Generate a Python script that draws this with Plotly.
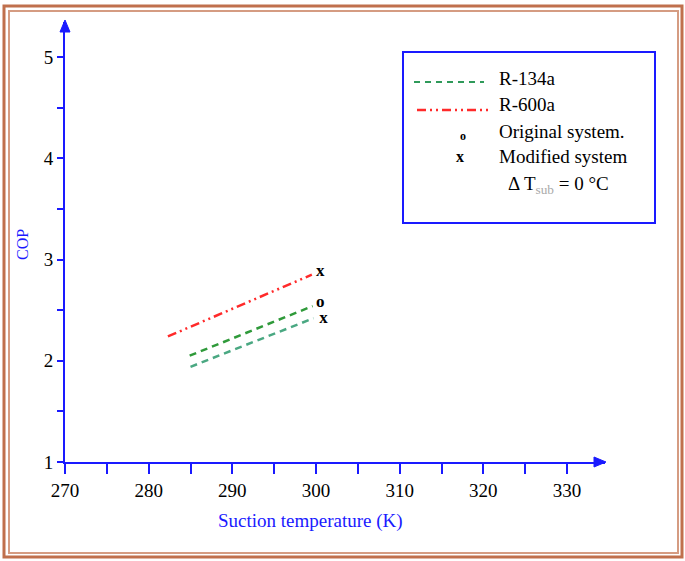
import plotly.graph_objects as go

# ---- data ----
r600a_T = [282.3, 299.5]
r600a_cop = [2.24, 2.85]
r134a_orig_T = [284.9, 299.6]
r134a_orig_cop = [2.05, 2.54]
r134a_mod_T = [285.0, 299.7]
r134a_mod_cop = [1.94, 2.42]

marker_T = [300.5, 300.5, 300.9]
marker_cop = [2.88, 2.57, 2.41]
marker_txt = ["<b>x</b>", "<b>o</b>", "<b>x</b>"]

x_ticks = [270, 280, 290, 300, 310, 320, 330]
y_ticks = [1, 2, 3, 4, 5]

BLUE = "#1a1aff"
SERIF = "Liberation Serif, Times New Roman, serif"

# pixel geometry of the plot area
L, R, T, B = 65, 605, 22, 462
W, H = 685, 561
def px(x):
    return (x - L) / (R - L)
def py(y):
    return (B - y) / (B - T)

fig = go.Figure()
fig.add_trace(go.Scatter(x=r600a_T, y=r600a_cop, mode="lines",
                         line=dict(color="#ff2a2a", width=2.5, dash="9px,4px,2px,4px,2px,4px"),
                         showlegend=False, hoverinfo="skip"))
fig.add_trace(go.Scatter(x=r134a_orig_T, y=r134a_orig_cop, mode="lines",
                         line=dict(color="#2f9a3a", width=2.5, dash="7px,5px"),
                         showlegend=False, hoverinfo="skip"))
fig.add_trace(go.Scatter(x=r134a_mod_T, y=r134a_mod_cop, mode="lines",
                         line=dict(color="#4aa882", width=2.5, dash="7px,5px"),
                         showlegend=False, hoverinfo="skip"))
fig.add_trace(go.Scatter(x=marker_T, y=marker_cop, mode="text", text=marker_txt,
                         textfont=dict(family=SERIF, size=17, color="black"),
                         textposition="middle center", showlegend=False, hoverinfo="skip"))

xmax = 270 + (R - L) / 8.367
ymax = 1 + (B - T) / 101.25

shapes = []
# frame (double brown border)
shapes.append(dict(type="rect", xref="paper", yref="paper",
                   x0=px(4), x1=px(682), y0=py(557), y1=py(6),
                   line=dict(color="#c0704d", width=3)))
shapes.append(dict(type="rect", xref="paper", yref="paper",
                   x0=px(9), x1=px(678), y0=py(553), y1=py(11),
                   line=dict(color="#d59c82", width=2)))
# legend box
shapes.append(dict(type="rect", xref="paper", yref="paper",
                   x0=px(403), x1=px(655), y0=py(223), y1=py(52),
                   line=dict(color="#1a1aff", width=2)))
# legend line samples
shapes.append(dict(type="line", xref="paper", yref="paper",
                   x0=px(414), x1=px(484), y0=py(82), y1=py(82),
                   line=dict(color="#2f9a5a", width=2, dash="6px,5px")))
shapes.append(dict(type="line", xref="paper", yref="paper",
                   x0=px(417), x1=px(488), y0=py(110), y1=py(110),
                   line=dict(color="#ff2a2a", width=2.5, dash="9px,4px,2px,4px,2px,4px")))
# axis arrowheads (filled triangles)
def tri(pts):
    d = "M " + " L ".join(f"{px(a):.5f},{py(b):.5f}" for a, b in pts) + " Z"
    return dict(type="path", xref="paper", yref="paper", path=d,
                fillcolor=BLUE, line=dict(color=BLUE, width=1))
shapes.append(tri([(606, 462), (594, 457), (594, 467)]))
shapes.append(tri([(65, 20), (60, 32), (70, 32)]))

ann = []
def txt(x, y, s, size=19, color="black", xanchor="left", **kw):
    ann.append(dict(xref="paper", yref="paper", x=px(x), y=py(y), text=s,
                    showarrow=False, xanchor=xanchor, yanchor="middle",
                    font=dict(family=SERIF, size=size, color=color), **kw))

txt(497, 78, "R-134a")
txt(497, 104, "R-600a")
txt(463, 136, "<b>o</b>", size=12, xanchor="center")
txt(497, 131, "Original system.")
txt(460, 157, "<b>x</b>", size=16, xanchor="center")
txt(497, 157, "Modified system")
txt(506, 185, "Δ T<sub><span style='color:#aaaaaa'>sub</span></sub> = 0 °C")
# axis titles
txt(310, 521, "Suction temperature (K)", size=19, color=BLUE, xanchor="center")
ann.append(dict(xref="paper", yref="paper", x=px(22), y=py(245), text="COP",
                showarrow=False, textangle=-90, xanchor="center", yanchor="middle",
                font=dict(family=SERIF, size=16, color=BLUE)))

fig.update_layout(
    width=W, height=H, autosize=False,
    margin=dict(l=L, r=W - R, t=T, b=H - B),
    paper_bgcolor="white", plot_bgcolor="white",
    shapes=shapes, annotations=ann, showlegend=False,
    xaxis=dict(range=[270, xmax], tickvals=x_ticks, ticktext=[str(v) for v in x_ticks],
               showgrid=False, zeroline=False, showline=True, linecolor=BLUE, linewidth=2,
               ticks="outside", ticklen=10, tickwidth=2, tickcolor=BLUE,
               minor=dict(tickvals=[275, 285, 295, 305, 315, 325], ticks="outside",
                          ticklen=10, tickwidth=2, tickcolor=BLUE),
               tickfont=dict(family=SERIF, size=19, color="black")),
    yaxis=dict(range=[1, ymax], tickvals=y_ticks, ticktext=[str(v) for v in y_ticks],
               showgrid=False, zeroline=False, showline=True, linecolor=BLUE, linewidth=2,
               ticks="outside", ticklen=6, tickwidth=2, tickcolor=BLUE,
               minor=dict(tickvals=[1.5, 2.5, 3.5, 4.5], ticks="outside",
                          ticklen=6, tickwidth=2, tickcolor=BLUE),
               tickfont=dict(family=SERIF, size=19, color="black")),
)

fig.write_html("out.html", config={"displayModeBar": False},
               post_script="document.body.style.margin='0';")
